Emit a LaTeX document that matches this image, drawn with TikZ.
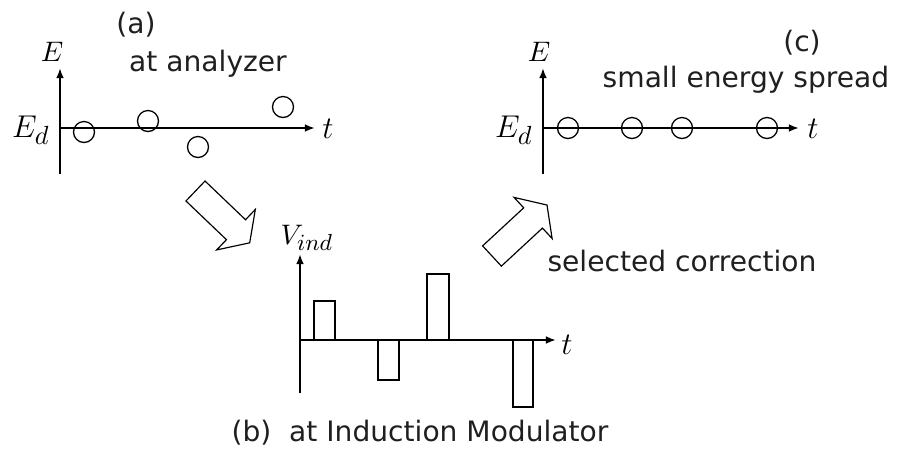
\documentclass[tikz,border=0pt]{standalone}
\usepackage{fontspec}
\setsansfont{DejaVu Sans}
\usetikzlibrary{arrows.meta}
\DeclareMathSizes{12}{12}{10}{8}
\DeclareMathSizes{10.95}{10.95}{9}{7}

\tikzset{
  axis/.style={line width=0.8pt, -{Latex[length=1.5mm, width=1.15mm]}},
  bunch/.style={circle, draw, line width=0.55pt, minimum size=0.315cm, inner sep=0pt},
  bar/.style={line width=0.45pt},
  lbl/.style={font=\sffamily\fontsize{12}{14}\selectfont, text=black!88, inner sep=0pt},
  bigmath/.style={font=\fontsize{12}{14}\selectfont, scale=1.12, inner sep=0pt},
  smallmath/.style={font=\fontsize{10.95}{13}\selectfont, scale=1.1, inner sep=0pt},
  pics/fatarrow/.style={code={
    \draw[line width=0.5pt, line join=miter]
      (0,-13.8) -- (56,-13.8) -- (56,-28) -- (75,0) -- (56,28) -- (56,13.8) -- (0,13.8) -- cycle;
  }}
}

\begin{document}
\begin{tikzpicture}[x=0.015cm, y=0.015cm]
\useasboundingbox (0,0) rectangle (897,449);

% (a) at analyzer
\coordinate (oa) at (60,321);
\coordinate (ba) at (60,275);
\coordinate (ea) at (60,381);
\coordinate (ta) at (315,321);
\draw[axis] (ba) -- (ea);
\draw[axis] (oa) -- (ta);
\node[smallmath] (Ea) at (52,397) {$E$};
\node[bigmath] (Eda) at (31,319) {$E_d$};
\node[bigmath] (tla) at (328,320) {$t$};
\node[lbl] (capa) at (136,424) {(a)};
\node[lbl] (texta) at (208,385) {at analyzer};
\node[bunch] (a1) at (84,317) {};
\node[bunch] (a2) at (148,328) {};
\node[bunch] (a3) at (198,302) {};
\node[bunch] (a4) at (283,342) {};

% (c) small energy spread
\coordinate (oc) at (543,321);
\coordinate (bc) at (543,275);
\coordinate (ec) at (543,381);
\coordinate (tc) at (799,321);
\draw[axis] (bc) -- (ec);
\draw[axis] (oc) -- (tc);
\node[smallmath] (Ec) at (539,397) {$E$};
\node[bigmath] (Edc) at (514,319) {$E_d$};
\node[bigmath] (tlc) at (813,320) {$t$};
\node[lbl] (capc) at (802,406) {(c)};
\node[lbl] (textc) at (746,369) {small energy spread};
\foreach \xc [count=\i] in {568,632,682,767}
  \node[bunch] (c\i) at (\xc,321) {};

% (b) induction voltage
\coordinate (ob) at (300,109);
\coordinate (bb) at (300,56);
\coordinate (eb) at (300,195);
\coordinate (tb) at (556,109);
\draw[axis] (bb) -- (eb);
\draw[axis] (ob) -- (tb);
\node[smallmath] (Vb) at (307,211) {$V_{ind}$};
\node[bigmath] (tlb) at (567,104) {$t$};
\draw[bar] (314,109) rectangle (335,148);
\draw[bar] (378,109) rectangle (399,69);
\draw[bar] (427,109) rectangle (449,175);
\draw[bar] (513,109) rectangle (533,42);
\node[lbl] (textb) at (420,16) {(b)\ \ at Induction Modulator};

% block arrows
\pic[rotate=-43.7] at (195.5,258) {fatarrow};
\pic[rotate=42.8] at (492,193) {fatarrow};
\node[lbl] (textsel) at (682,188) {selected correction};
\end{tikzpicture}
\end{document}
